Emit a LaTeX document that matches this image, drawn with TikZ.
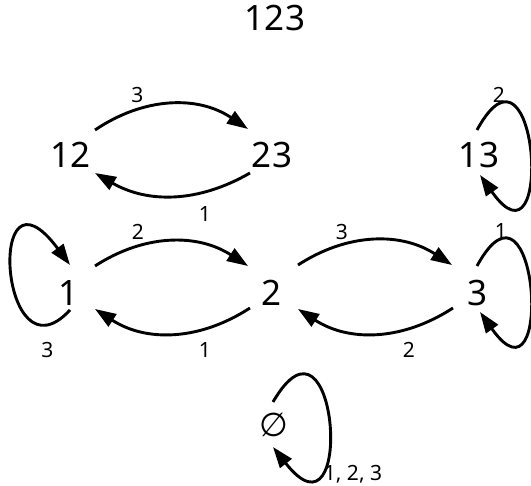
\documentclass[tikz,border=0pt]{standalone}
\usepackage{fontspec}
\setmainfont{Noto Sans}
\newfontfamily\symfont{DejaVu Sans}
\usetikzlibrary{arrows.meta}
\begin{document}
\begin{tikzpicture}[x=1pt,y=1pt,
  st/.style={inner sep=0pt, text depth=0pt, font=\fontsize{35}{38}\selectfont},
  lb/.style={inner sep=0pt, text depth=0pt, font=\fontsize{21}{24}\selectfont},
  arr/.style={line width=2.9pt, -{Triangle[length=21pt,width=14.5pt]}}]
\useasboundingbox (0,0) rectangle (531,486);
% states
\node[st] (n123) at (275,468) {123};
\node[st] (n12) at (71,331) {12};
\node[st] (n23) at (272,331) {23};
\node[st] (n13) at (479,331) {13};
\node[st] (n1) at (69,193) {1};
\node[st] (n2) at (272,193) {2};
\node[st] (n3) at (478,193) {3};
\node[st,font=\symfont\fontsize{33}{36}\selectfont] (nE) at (274,61) {∅};
% transitions between 12 and 23
\draw[arr] ([shift={(24,25)}]n12.center) to[out=34,in=146] ([shift={(-24,26)}]n23.center);
\draw[arr] ([shift={(-22,-18)}]n23.center) to[out=-150,in=-30] ([shift={(24,-18)}]n12.center);
% transitions between 1, 2, 3
\draw[arr] ([shift={(26,27)}]n1.center) to[out=33,in=147] ([shift={(-24,27)}]n2.center);
\draw[arr] ([shift={(-22,-15)}]n2.center) to[out=-147,in=-33] ([shift={(26,-16)}]n1.center);
\draw[arr] ([shift={(26,28)}]n2.center) to[out=33,in=147] ([shift={(-26,28)}]n3.center);
\draw[arr] ([shift={(-25,-15)}]n3.center) to[out=-147,in=-33] ([shift={(26,-16)}]n2.center);
% self loops
\draw[arr] ([shift={(1,-17)}]n1.center) .. controls ([shift={(-69,-93)}]n1.center) and ([shift={(-84,142)}]n1.center) .. ([shift={(1,28)}]n1.center);
\draw[arr] ([shift={(-2,25)}]n13.center) .. controls ([shift={(59,137)}]n13.center) and ([shift={(76,-126)}]n13.center) .. ([shift={(1,-20)}]n13.center);
\draw[arr] ([shift={(-1,27)}]n3.center) .. controls ([shift={(60,139)}]n3.center) and ([shift={(77,-125)}]n3.center) .. ([shift={(2,-19)}]n3.center);
\draw[arr] ([shift={(-1,23)}]nE.center) .. controls ([shift={(64,135)}]nE.center) and ([shift={(82,-128)}]nE.center) .. ([shift={(-1,-22)}]nE.center);
% labels
\node[lb] (l1) at (137.5,391) {3};
\node[lb] (l2) at (205,272) {1};
\node[lb] (l3) at (138,254) {2};
\node[lb] (l4) at (205,136) {1};
\node[lb] (l5) at (342,254) {3};
\node[lb] (l6) at (409,136) {2};
\node[lb] (l7) at (47.5,136) {3};
\node[lb] (l8) at (499,391) {2};
\node[lb] (l9) at (501,255) {1};
\node[lb] (l10) at (353,13) {1, 2, 3};
\end{tikzpicture}
\end{document}
